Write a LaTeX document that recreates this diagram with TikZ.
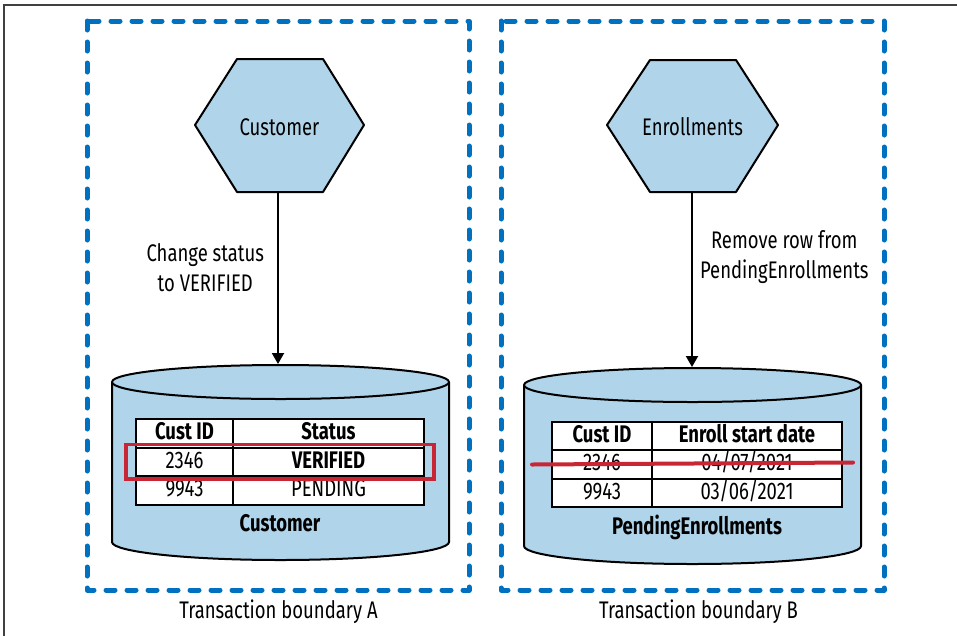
\documentclass[tikz,border=0pt]{standalone}
\usepackage{fontspec}
\setmainfont[FakeStretch=0.77]{Fira Sans}
\usetikzlibrary{arrows.meta,positioning,fit,calc}
\definecolor{boundblue}{RGB}{0,112,192}
\definecolor{hexblue}{RGB}{176,212,234}
\definecolor{markred}{RGB}{200,38,52}
\tikzset{
  boundary/.style={draw=boundblue, line width=5pt, dash pattern=on 9pt off 12pt, line cap=round, line join=round},
  hexshape/.style={draw=black, fill=hexblue, line width=2pt, line join=round},
  dbshape/.style={draw=black, fill=hexblue, line width=2pt},
  cellbox/.style={draw=black, fill=white, line width=2pt, outer sep=0pt, inner sep=0pt, minimum height=28.5pt, text height=16.5pt, text depth=4pt, font=\fontsize{24}{28}\selectfont},
  headbox/.style={cellbox, font=\fontsize{24}{28}\selectfont\bfseries},
  flowarrow/.style={-{Triangle[width=12pt,length=11pt]}, line width=2pt},
  plain/.style={font=\fontsize{24}{30}\selectfont, align=center, inner sep=0pt},
  redmark/.style={draw=markred, line width=3.5pt},
}

\begin{document}
\begin{tikzpicture}[x=1pt, y=-1pt]
    \useasboundingbox (0,0) rectangle (957,635);
    \draw[black!75, line width=1.2pt] (4,640) -- (4,5) -- (962,5);

    % transaction boundaries
    \draw[boundary] (87,21) rectangle (469,590);
    \draw[boundary] (501,21) rectangle (884,590);
    \node[plain] (bounda) at (278.5,612) {Transaction boundary A};
    \node[plain] (boundb) at (698.5,612) {Transaction boundary B};

    % services
    \draw[hexshape] (195,125) -- (237,59) -- (323,59) -- (364,125) -- (323,192) -- (237,192) -- cycle;
    \node[plain] (custhex) at (279.5,127) {Customer};
    \coordinate (custhexbot) at (278,192);
    \draw[hexshape] (607,125) -- (650,60) -- (736,60) -- (778,125) -- (736,192) -- (650,192) -- cycle;
    \node[plain] (enrollhex) at (692.5,127) {Enrollments};
    \coordinate (enrollhexbot) at (692,192);

    % databases
    \draw[dbshape] (112,382) -- (112,542) arc[start angle=180, end angle=0, x radius=168.5, y radius=18]
        -- (449,382) arc[start angle=0, end angle=-180, x radius=168.5, y radius=17] -- cycle;
    \draw[dbshape, fill=none] (112,382) arc[start angle=180, end angle=0, x radius=168.5, y radius=17];
    \coordinate (custdbtop) at (278,364);
    \draw[dbshape] (524,385) -- (524,546) arc[start angle=180, end angle=0, x radius=168.5, y radius=18]
        -- (861,385) arc[start angle=0, end angle=-180, x radius=168.5, y radius=17] -- cycle;
    \draw[dbshape, fill=none] (524,385) arc[start angle=180, end angle=0, x radius=168.5, y radius=17];
    \coordinate (enrolldbtop) at (692,367);

    \draw[flowarrow] (custhexbot) -- node[plain, pos=0.44, left=13pt] {Change status\\to VERIFIED} (custdbtop);
    \draw[flowarrow] (enrollhexbot) -- node[plain, pos=0.37, right=7pt] {Remove row from\\PendingEnrollments} (enrolldbtop);

    % customer table
    \node[headbox, minimum width=97pt] (custidh) at (184.5,433.25) {Cust ID};
    \node[headbox, minimum width=191pt, right=0pt of custidh] (statush) {Status};
    \node[cellbox, minimum width=97pt, below=0pt of custidh] (custid1) {2346};
    \node[cellbox, minimum width=191pt, right=0pt of custid1, font=\fontsize{24}{28}\selectfont\bfseries] (status1) {VERIFIED};
    \node[cellbox, minimum width=97pt, below=0pt of custid1] (custid2) {9943};
    \node[cellbox, minimum width=191pt, right=0pt of custid2] (status2) {PENDING};
    \node[plain, font=\fontsize{24}{28}\selectfont\bfseries] (custdb) at (280,523) {Customer};
    \node[redmark, fit=(custid1)(status1), inner xsep=10pt, inner ysep=3pt] (verifymark) {};

    % pending enrollments table
    \node[headbox, minimum width=100pt] (enrollidh) at (602,436) {Cust ID};
    \node[headbox, minimum width=190pt, right=0pt of enrollidh] (dateh) {Enroll start date};
    \node[cellbox, minimum width=100pt, below=0pt of enrollidh] (enrollid1) {2346};
    \node[cellbox, minimum width=190pt, right=0pt of enrollid1] (date1) {04/07/2021};
    \node[cellbox, minimum width=100pt, below=0pt of enrollid1] (enrollid2) {9943};
    \node[cellbox, minimum width=190pt, right=0pt of enrollid2] (date2) {03/06/2021};
    \node[plain, font=\fontsize{24}{28}\selectfont\bfseries] (enrolldb) at (697,527) {PendingEnrollments};
    \draw[redmark, line width=4pt, line cap=round] ($(enrollid1.west)+(-20,0)$) -- ($(date1.east)+(11,-2)$);
\end{tikzpicture}
\end{document}
